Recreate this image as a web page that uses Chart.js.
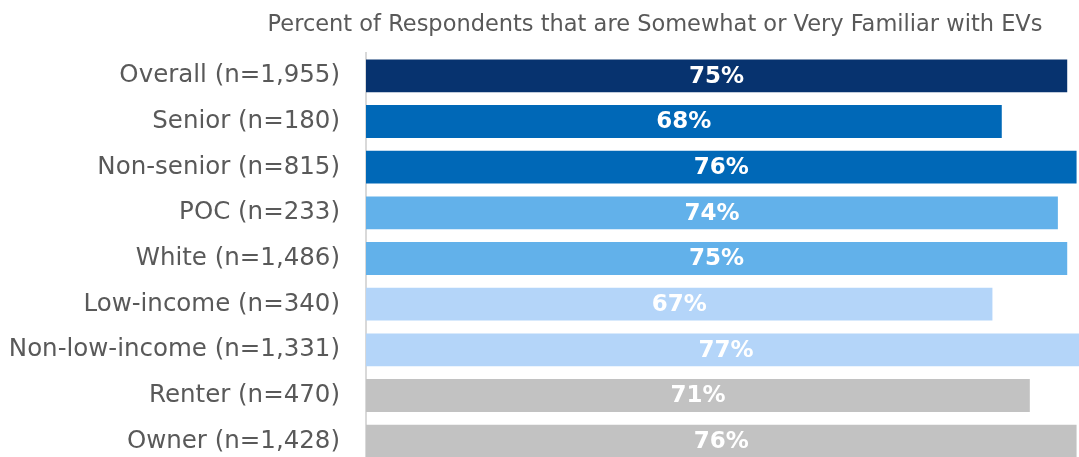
<!DOCTYPE html>
<html>
<head>
<meta charset="utf-8">
<script src="https://cdn.jsdelivr.net/npm/chart.js@4/dist/chart.umd.min.js"></script>
<style>
  html, body { margin: 0; padding: 0; background: #fff; }
  #wrap { width: 1079px; height: 457px; overflow: hidden; position: relative; }
</style>
</head>
<body>
<div id="wrap"><canvas id="evChart" width="1079" height="464"></canvas></div>
<script>
// groups and their share (%) that know EVs somewhat / very well
const groups = [
    'Overall (n=1,955)',
    'Senior (n=180)',
    'Non-senior (n=815)',
    'POC (n=233)',
    'White (n=1,486)',
    'Low-income (n=340)',
    'Non-low-income (n=1,331)',
    'Renter (n=470)',
    'Owner (n=1,428)'
];
const familiar = [75, 68, 76, 74, 75, 67, 77, 71, 76];
const barColors = [
    '#07336f',
    '#0068b7', '#0068b7',
    '#62b1ea', '#62b1ea',
    '#b4d5f9', '#b4d5f9',
    '#c2c2c2', '#c2c2c2'
];
const chartTitle = 'Percent of Respondents that are Somewhat or Very Familiar with EVs';

const FONT = '"DejaVu Sans", sans-serif';

// title text above the bars
const titlePlugin = {
    id: 'topTitle',
    afterDraw(chart) {
        const ctx = chart.ctx;
        ctx.save();
        ctx.font = '22.5px ' + FONT;
        ctx.fillStyle = '#595959';
        ctx.textAlign = 'center';
        ctx.textBaseline = 'middle';
        ctx.fillText(chartTitle, 655, 25);
        ctx.restore();
    }
};

// value labels in the middle of each bar (full bar length, even if cut off)
const valuePlugin = {
    id: 'barValues',
    afterDatasetsDraw(chart) {
        const ctx = chart.ctx;
        const xs = chart.scales.x;
        const meta = chart.getDatasetMeta(0);
        ctx.save();
        ctx.font = 'bold 23px ' + FONT;
        ctx.fillStyle = '#ffffff';
        ctx.textAlign = 'center';
        ctx.textBaseline = 'middle';
        meta.data.forEach((bar, i) => {
            const x0 = xs.getPixelForValue(0);
            const x1 = xs.getPixelForValue(familiar[i]);
            ctx.fillText(familiar[i] + '%', (x0 + x1) / 2, bar.y + 1);
        });
        ctx.restore();
    }
};

const data = {
    labels: groups,
    datasets: [{
        data: familiar,
        backgroundColor: barColors,
        borderWidth: 0,
        barPercentage: 0.72,
        categoryPercentage: 1.0
    }]
};

const config = {
    type: 'bar',
    data: data,
    options: {
        indexAxis: 'y',
        responsive: false,
        animation: false,
        layout: { padding: { top: 53, right: 0, bottom: 0, left: 0 } },
        plugins: {
            legend: { display: false },
            tooltip: { enabled: false },
            title: { display: false }
        },
        scales: {
            x: {
                display: false,
                min: 0,
                max: 76.26
            },
            y: {
                // fixed label column, and no extra room above/below the bars
                afterFit(scale) {
                    scale.width = 366;
                    scale.paddingTop = 0;
                    scale.paddingBottom = 0;
                },
                grid: { display: false, drawTicks: false },
                border: { display: true, color: '#d9d9d9', width: 2 },
                ticks: {
                    padding: 26,
                    color: '#595959',
                    font: { family: FONT, size: 24.5 }
                }
            }
        }
    },
    plugins: [titlePlugin, valuePlugin]
};

let ctx = document.getElementById('evChart').getContext('2d');
new Chart(ctx, config);
</script>
</body>
</html>
